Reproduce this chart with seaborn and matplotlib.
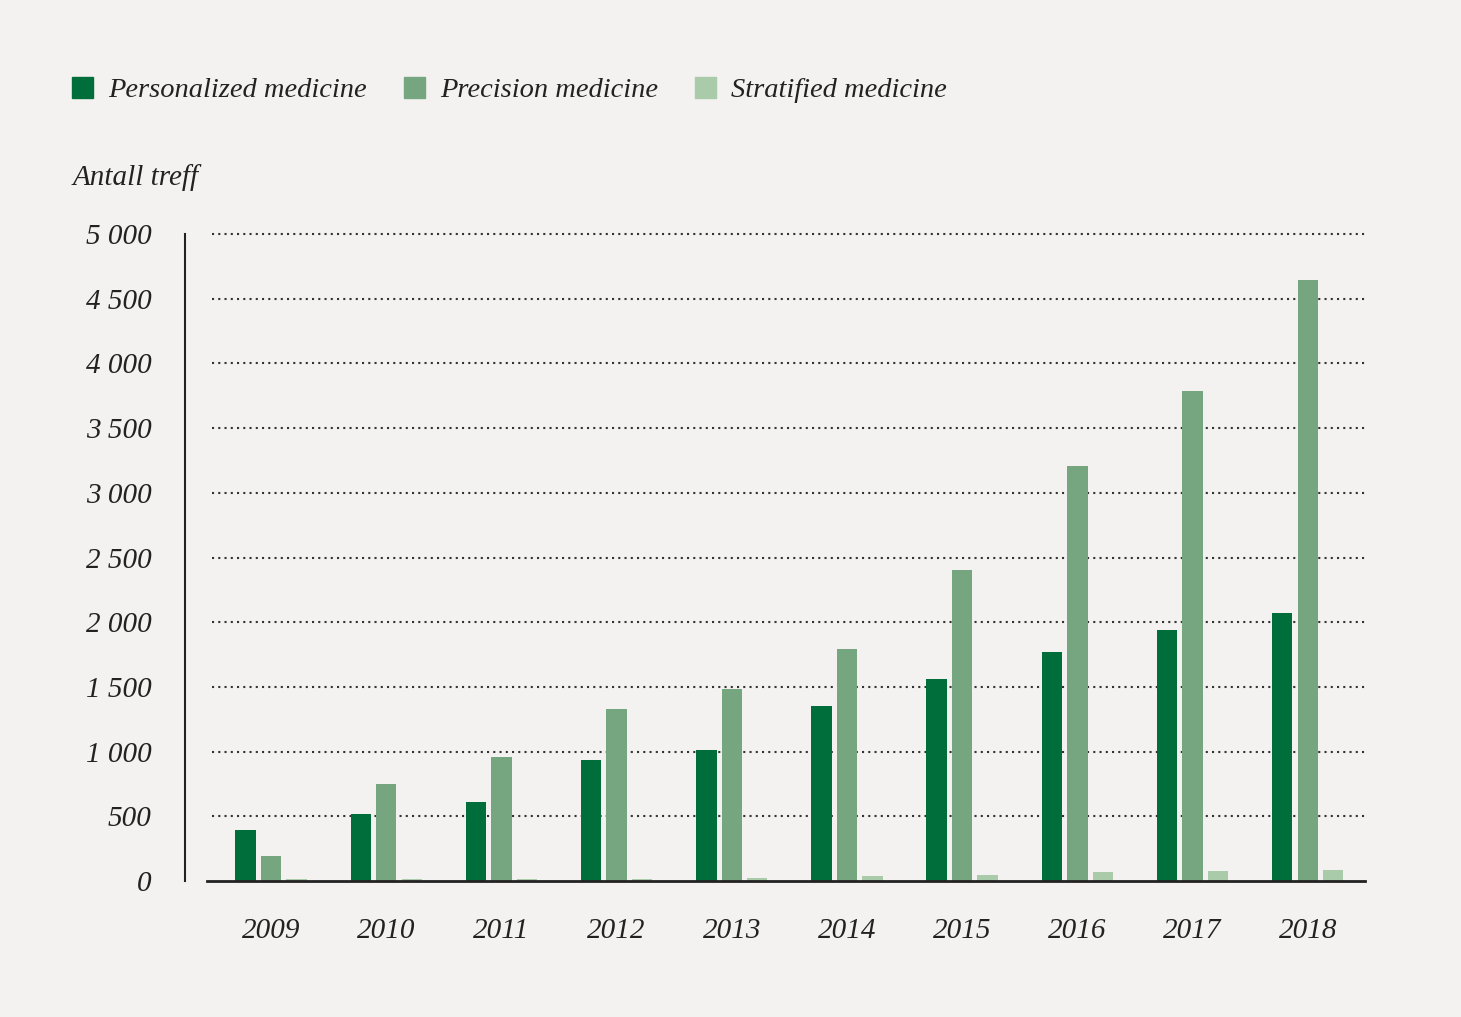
import pandas as pd
import matplotlib.pyplot as plt
import matplotlib.patches as mpatches
import seaborn as sns

years = ["2009", "2010", "2011", "2012", "2013", "2014", "2015", "2016", "2017", "2018"]
personalized = [392, 514, 612, 932, 1010, 1352, 1563, 1770, 1940, 2070]
precision = [192, 750, 958, 1326, 1486, 1790, 2400, 3210, 3788, 4648]
stratified = [12, 14, 15, 15, 25, 37, 45, 67, 75, 83]
series = ["Personalized medicine", "Precision medicine", "Stratified medicine"]
colors = ["#006e3b", "#76a680", "#a9cbaa"]
yticks = [0, 500, 1000, 1500, 2000, 2500, 3000, 3500, 4000, 4500, 5000]

df = pd.DataFrame({
    "year": years * 3,
    "value": personalized + precision + stratified,
    "series": [s for s in series for _ in years],
})

bg = "#f4f2f0"
ink = "#222222"
sns.set_theme(style="white")
plt.rcParams["font.family"] = ["Liberation Serif", "DejaVu Serif"]

fig = plt.figure(figsize=(14.61, 10.17), dpi=100, facecolor=bg)
ax = fig.add_axes([207 / 1461, 1 - 881 / 1017, 1158 / 1461, 647 / 1017])
ax.set_facecolor(bg)

sns.barplot(data=df, x="year", y="value", hue="series", hue_order=series,
            palette=colors, width=0.664, gap=0.2, saturation=1,
            linewidth=0, legend=False, ax=ax)

ax.set_xlim(-0.556, 9.497)
ax.set_ylim(0, 5000)
ax.set_yticks(yticks)
ax.set_yticklabels([f"{v:,}".replace(",", " ") for v in yticks])
# dotted guide lines, drawn behind the bars
for v in yticks[1:]:
    ax.axhline(v, xmin=5 / 1158, xmax=1, color="#333333", lw=1.5,
               linestyle=(0, (1, 2)), zorder=0, clip_on=False)

ax.set_xlabel("")
ax.set_ylabel("")
for side in ["top", "right"]:
    ax.spines[side].set_visible(False)
ax.spines["left"].set_position(("outward", 16))
ax.spines["left"].set_color(ink)
ax.spines["left"].set_linewidth(1.5)
ax.spines["bottom"].set_color(ink)
ax.spines["bottom"].set_linewidth(2)
ax.tick_params(axis="y", length=0, pad=24, labelsize=21, labelcolor=ink)
ax.tick_params(axis="x", length=0, pad=27, labelsize=21, labelcolor=ink)
for lab in ax.get_xticklabels() + ax.get_yticklabels():
    lab.set_fontstyle("italic")

fig.text(73 / 1461, 1 - 178 / 1017, "Antall treff", fontsize=21,
         style="italic", color=ink, ha="left", va="center")

handles = [mpatches.Patch(color=c, label=s) for c, s in zip(colors, series)]
fig.legend(handles=handles, loc="upper left", bbox_to_anchor=(58 / 1461, 1 - 63 / 1017),
           ncol=3, frameon=False, handlelength=0.72, handleheight=0.72,
           handletextpad=0.55, columnspacing=1.3, borderpad=0,
           prop={"size": 20.5, "style": "italic"}, labelcolor=ink)

fig.savefig("out.png", dpi=100, facecolor=bg)
